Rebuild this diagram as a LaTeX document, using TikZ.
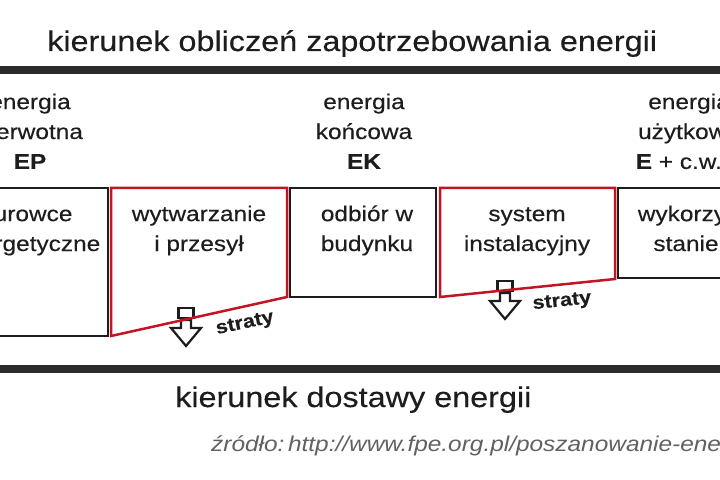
\documentclass[tikz,border=0pt]{standalone}
\usepackage{fontspec}
\setmainfont[FakeStretch=1.14, FakeBold=0.25]{Liberation Sans}
\newfontfamily\srcfont[FakeStretch=1.14]{Liberation Sans}
\definecolor{txt}{HTML}{1E1C1D}
\definecolor{barc}{HTML}{2B2B2B}
\definecolor{lossred}{RGB}{195,20,35}
\tikzset{
  lbl/.style={font=\fontsize{21.5}{30}\selectfont, text=txt, align=center, inner sep=0pt, anchor=north},
  bigtxt/.style={font=\fontsize{28.5}{34}\selectfont, text=txt, inner sep=0pt, anchor=base west},
  srctxt/.style={font=\srcfont\fontsize{21.5}{26}\selectfont\itshape, text=black!62, inner sep=0pt, anchor=base west},
  losstxt/.style={font=\fontsize{19}{22}\selectfont\bfseries, text=txt, inner sep=0pt},
  bar/.style={draw=barc, line width=8bp},
  stagebox/.style={draw=txt, line width=2.5bp, line join=miter},
  lossbox/.style={draw=lossred, line width=2.5bp, line join=miter},
  lossarrow/.pic={
    \draw[txt, line width=2.2bp, line join=miter] (-7.5,0) rectangle (7.5,10);
    \draw[txt, line width=2.2bp, line join=miter] (-5,12) -- (5,12) -- (5,20) -- (15,20) -- (0,38) -- (-15,20) -- (-5,20) -- cycle;
  }
}
\begin{document}
\begin{tikzpicture}[x=1bp, y=-1bp]
\useasboundingbox (0,0) rectangle (720,480);
\clip (0,0) rectangle (720,480);
\fill[white] (0,0) rectangle (720,480);

% direction texts and bars
\node[bigtxt] (ttop) at (47,51) {kierunek obliczeń zapotrzebowania energii};
\draw[bar] (-10,70) -- (730,70);
\draw[bar] (-10,369) -- (730,369);
\node[bigtxt] (tbot) at (175,407) {kierunek dostawy energii};
\node[srctxt] (src) at (211,451) {źródło:\,http://www.fpe.org.pl/poszanowanie-energii};

% headings
\node[lbl] (h1) at (30,88) {\strut energia\\pierwotna\\\textbf{EP}};
\node[lbl] (h3) at (364,88) {\strut energia\\końcowa\\\textbf{EK}};
\node[lbl] (h5) at (689,88) {\strut energia\\użytkowa\\\textbf{E} + c.w.u.};

% loss arrows (under the red boxes)
\pic at (186,308) {lossarrow};
\pic at (505,281) {lossarrow};

% stage boxes
\draw[stagebox] (-10,188) -- (108,188) -- (108,336) -- (-10,336);
\draw[lossbox] (111,188) -- (287,188) -- (287,297) -- (111,336) -- cycle;
\draw[stagebox] (290,188) rectangle (436,297);
\draw[lossbox] (440,188) -- (615,188) -- (615,279) -- (440,297) -- cycle;
\draw[stagebox] (730,188) -- (618,188) -- (618,278) -- (730,278);

% box texts
\node[lbl] (b1) at (27,200) {\strut surowce\\energetyczne};
\node[lbl] (b2) at (199,200) {\strut wytwarzanie\\i przesył};
\node[lbl] (b3) at (367,200) {\strut odbiór w\\budynku};
\node[lbl] (b4) at (527,200) {\strut system\\instalacyjny};
\node[lbl] (b5) at (686,200) {\strut wykorzy-\\stanie};

% losses labels
\node[losstxt, rotate=12] (s1) at (245,324) {straty};
\node[losstxt, rotate=6] (s2) at (562,302) {straty};
\end{tikzpicture}
\end{document}
